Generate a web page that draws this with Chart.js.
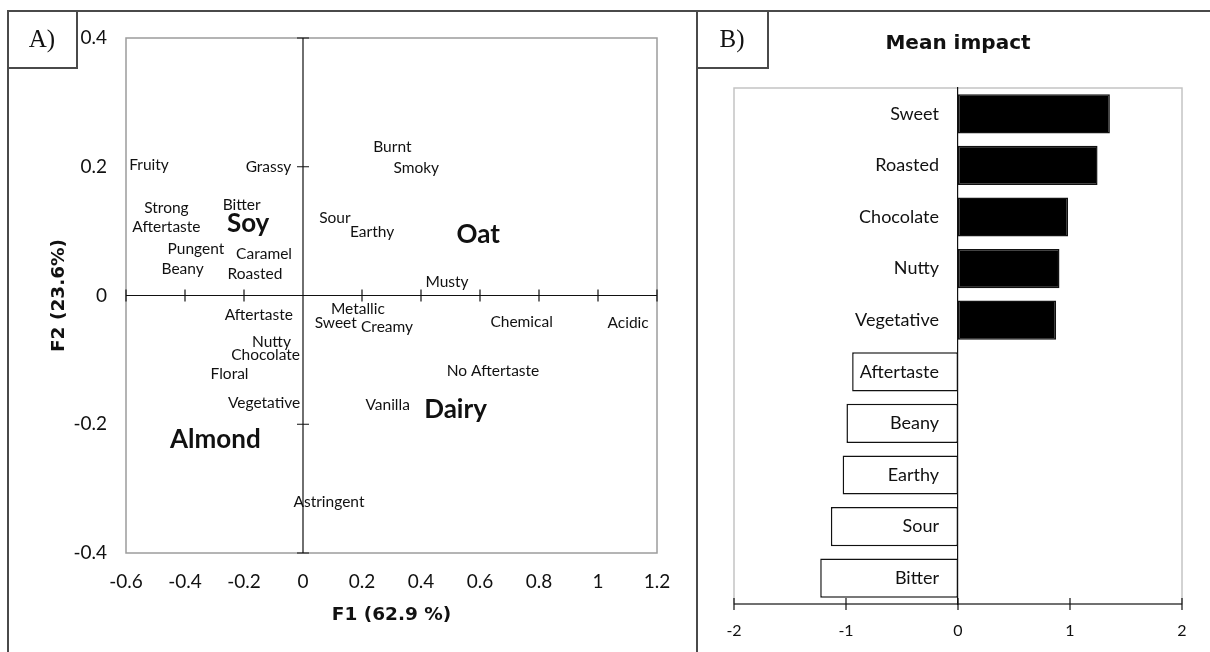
<!DOCTYPE html>
<html>
<head>
<meta charset="utf-8">
<script src="https://cdn.jsdelivr.net/npm/chart.js@4.4.1/dist/chart.umd.min.js"></script>
<style>
  body { margin: 0; background: #fff; }
  #page { position: relative; width: 1210px; height: 652px; overflow: hidden; }
  canvas { position: absolute; top: 0; }
  #chartA { left: 0; }
  #chartB { left: 697px; }
  .line { position: absolute; background: #4a4a4a; }
  .tag {
    position: absolute; box-sizing: border-box;
    border-right: 2px solid #4a4a4a; border-bottom: 2px solid #4a4a4a;
    font-family: "Liberation Serif", serif; font-size: 25px; color: #111;
    display: flex; align-items: center; justify-content: center;
  }
</style>
</head>
<body>
<div id="page">
  <canvas id="chartA" width="697" height="652"></canvas>
  <canvas id="chartB" width="513" height="652"></canvas>
  <div class="line" style="left:7px;top:10px;width:1203px;height:2px"></div>
  <div class="line" style="left:7px;top:10px;width:2px;height:642px"></div>
  <div class="line" style="left:696px;top:10px;width:2px;height:642px"></div>
  <div class="tag" style="left:8px;top:11px;width:70px;height:58px">A)</div>
  <div class="tag" style="left:697px;top:11px;width:72px;height:58px">B)</div>
</div>
<script>
// A) attribute positions on F1/F2 (label centres)
const attrNames = ['Fruity', 'Grassy', ['Strong', 'Aftertaste'], 'Bitter', 'Pungent', 'Caramel', 'Beany', 'Roasted',
  'Burnt', 'Smoky', 'Sour', 'Earthy', 'Musty', 'Metallic', 'Sweet', 'Creamy', 'Chemical', 'Acidic',
  'Aftertaste', 'Nutty', 'Chocolate', 'Floral', 'No Aftertaste', 'Vegetative', 'Vanilla', 'Astringent'];
const attrF1 = [-0.522, -0.117, -0.463, -0.208, -0.363, -0.132, -0.408, -0.163,
  0.303, 0.384, 0.108, 0.234, 0.488, 0.186, 0.111, 0.285, 0.741, 1.102,
  -0.150, -0.107, -0.127, -0.249, 0.644, -0.132, 0.287, 0.088];
const attrF2 = [0.203, 0.200, 0.121, 0.141, 0.072, 0.0645, 0.041, 0.033,
  0.231, 0.1985, 0.121, 0.098, 0.0205, -0.0215, -0.042, -0.049, -0.041, -0.042,
  -0.030, -0.073, -0.092, -0.122, -0.118, -0.1665, -0.1706, -0.321];

// products
const milkNames = ['Soy', 'Oat', 'Dairy', 'Almond'];
const milkF1 = [-0.186, 0.594, 0.517, -0.297];
const milkF2 = [0.111, 0.094, -0.178, -0.2237];

const f1Range = [-0.6, 1.2];
const f2Range = [-0.4, 0.4];

// B) mean impact
const impactLabels = ['Sweet', 'Roasted', 'Chocolate', 'Nutty', 'Vegetative', 'Aftertaste', 'Beany', 'Earthy', 'Sour', 'Bitter'];
const impactValues = [1.356, 1.246, 0.983, 0.906, 0.876, -0.945, -0.996, -1.03, -1.135, -1.23];
const impactRange = [-2, 2];

Chart.defaults.font.family = 'Lato';
Chart.defaults.color = '#111';

// grey frame + black axes with ticks crossing the line
const crossAxes = {
  id: 'crossAxes',
  beforeDatasetsDraw(chart, args, o) {
    const {ctx, chartArea: a} = chart;
    const xs = chart.scales.x, ys = chart.scales.y;
    ctx.save();
    ctx.lineWidth = 1.5;
    ctx.strokeStyle = o.frame;
    ctx.strokeRect(a.left, a.top, a.width, a.height);
    ctx.lineWidth = 1.2;
    ctx.strokeStyle = '#111';
    ctx.beginPath();
    const y0 = o.xAxisAt === 'bottom' ? a.bottom : ys.getPixelForValue(0);
    ctx.moveTo(a.left, y0);
    ctx.lineTo(a.right, y0);
    xs.ticks.forEach(t => {
      const x = xs.getPixelForValue(t.value);
      ctx.moveTo(x, y0 - 6);
      ctx.lineTo(x, y0 + 6);
    });
    if (o.yAxis) {
      const x0 = xs.getPixelForValue(0);
      ctx.moveTo(x0, a.top);
      ctx.lineTo(x0, a.bottom);
      ys.ticks.forEach(t => {
        const y = ys.getPixelForValue(t.value);
        ctx.moveTo(x0 - 6, y);
        ctx.lineTo(x0 + 6, y);
      });
    }
    ctx.stroke();
    ctx.restore();
  }
};

// text at each scatter point
const textLabels = {
  id: 'textLabels',
  afterDatasetsDraw(chart) {
    const ctx = chart.ctx;
    chart.data.datasets.forEach((ds, i) => {
      const meta = chart.getDatasetMeta(i);
      ctx.save();
      ctx.font = ds.labelFont;
      ctx.fillStyle = '#111';
      ctx.textAlign = 'center';
      ctx.textBaseline = 'middle';
      meta.data.forEach((pt, j) => {
        const lines = [].concat(ds.labels[j]);
        lines.forEach((t, k) => {
          ctx.fillText(t, pt.x, pt.y + (k - (lines.length - 1) / 2) * ds.lineGap);
        });
      });
      ctx.restore();
    });
  }
};

// category names just left of the zero line, on top of the bars
const barLabels = {
  id: 'barLabels',
  afterDatasetsDraw(chart, args, o) {
    const {ctx} = chart;
    const xs = chart.scales.x, ys = chart.scales.y;
    const x0 = xs.getPixelForValue(0) - o.gap;
    ctx.save();
    ctx.font = o.font;
    ctx.fillStyle = '#111';
    ctx.textAlign = 'right';
    ctx.textBaseline = 'middle';
    chart.data.labels.forEach((lab, i) => ctx.fillText(lab, x0, ys.getPixelForValue(i)));
    ctx.restore();
  }
};

const axisTitleFont = {family: 'DejaVu Sans', weight: 'bold', size: 18.5};
const plainNum = v => +v.toFixed(1);

new Chart('chartA', {
  type: 'scatter',
  data: {
    datasets: [{
      data: attrF1.map((x, i) => ({x: x, y: attrF2[i]})),
      labels: attrNames,
      labelFont: '15.5px Lato',
      lineGap: 19,
      pointRadius: 0
    }, {
      data: milkF1.map((x, i) => ({x: x, y: milkF2[i]})),
      labels: milkNames,
      labelFont: 'bold 26px Lato',
      lineGap: 0,
      pointRadius: 0
    }]
  },
  options: {
    responsive: false,
    animation: false,
    layout: {padding: {left: 0, top: 38, right: 40, bottom: 0}},
    plugins: {
      legend: {display: false},
      tooltip: {enabled: false},
      crossAxes: {frame: '#9c9c9c', xAxisAt: 0, yAxis: true}
    },
    scales: {
      x: {
        min: f1Range[0], max: f1Range[1],
        ticks: {stepSize: 0.2, padding: 17.3, font: {size: 19}, callback: plainNum},
        grid: {display: false, drawTicks: false},
        border: {display: false},
        title: {display: true, text: 'F1 (62.9 %)', font: axisTitleFont, padding: {top: 0, bottom: 25.9}},
        afterFit: s => { s.height = 99; }
      },
      y: {
        min: f2Range[0], max: f2Range[1],
        ticks: {stepSize: 0.2, padding: 19, font: {size: 19}, callback: plainNum},
        grid: {display: false, drawTicks: false},
        border: {display: false},
        title: {display: true, text: 'F2 (23.6%)', font: axisTitleFont, padding: {top: 47.9, bottom: 0}},
        afterFit: s => { s.width = 126; }
      }
    }
  },
  plugins: [crossAxes, textLabels]
});

new Chart('chartB', {
  type: 'bar',
  data: {
    labels: impactLabels,
    datasets: [{
      data: impactValues,
      backgroundColor: impactValues.map(v => v > 0 ? '#000' : '#fff'),
      borderColor: '#111',
      borderWidth: 1.5,
      borderSkipped: false,
      barPercentage: 0.76,
      categoryPercentage: 1
    }]
  },
  options: {
    indexAxis: 'y',
    responsive: false,
    animation: false,
    layout: {padding: {left: 37, right: 28, top: 0, bottom: 0}},
    plugins: {
      legend: {display: false},
      tooltip: {enabled: false},
      title: {
        display: true, text: 'Mean impact',
        font: {family: 'DejaVu Sans', weight: 'bold', size: 20},
        padding: {top: 32, bottom: 32}
      },
      crossAxes: {frame: '#c4c4c4', xAxisAt: 'bottom', yAxis: false},
      barLabels: {gap: 19, font: '18px Lato'}
    },
    scales: {
      x: {
        min: impactRange[0], max: impactRange[1],
        ticks: {stepSize: 1, padding: 17.4, font: {size: 16}},
        grid: {display: false, drawTicks: false},
        border: {display: false},
        afterFit: s => { s.height = 48; }
      },
      y: {
        position: {x: 0},
        grid: {display: false, drawTicks: false},
        border: {color: '#111', width: 1.2, z: 1},
        ticks: {display: false}
      }
    }
  },
  plugins: [crossAxes, barLabels]
});
</script>
</body>
</html>
